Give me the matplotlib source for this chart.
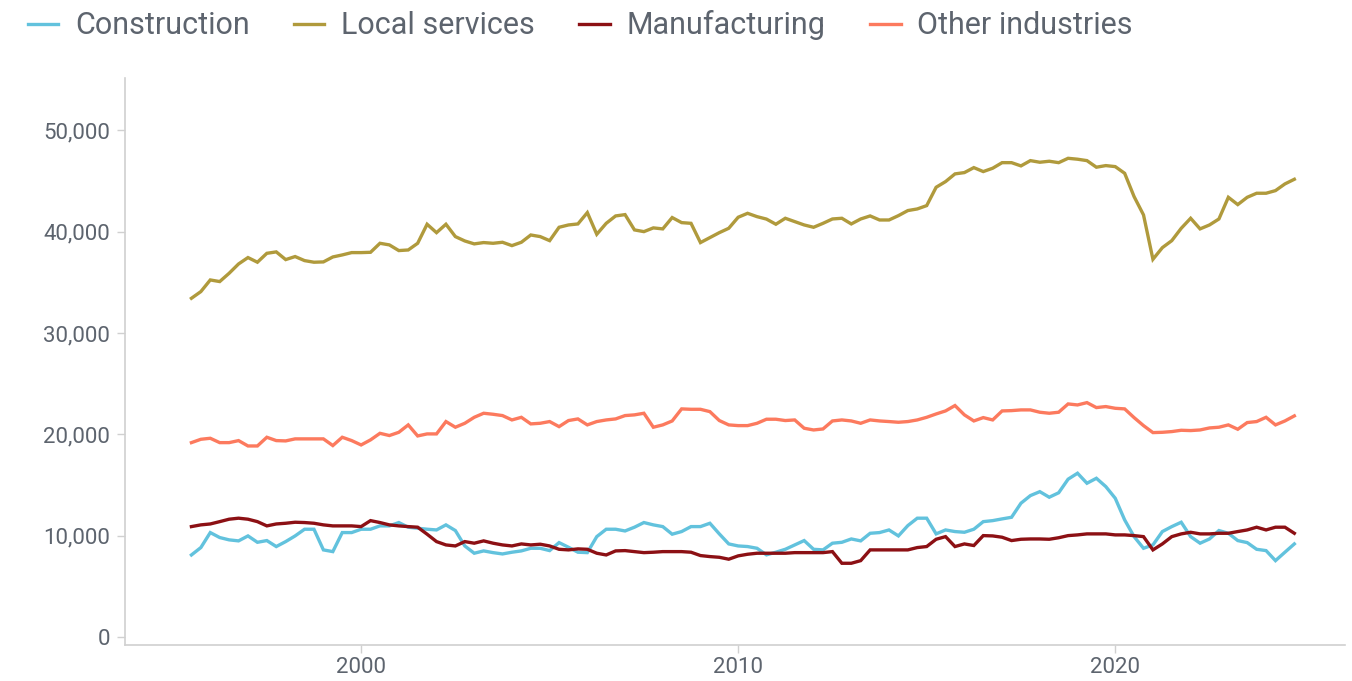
import matplotlib
matplotlib.use("Agg")
import matplotlib.pyplot as plt
import numpy as np
import pandas as pd
from matplotlib.ticker import FuncFormatter

# Quarterly employment by industry, 1995Q3 onwards
START_QUARTER = "1995Q3"

construction = [
    8090, 8820, 10300, 9810, 9580, 9480, 9970, 9340, 9510, 8920, 9410, 9970,
    10630, 10630, 8590, 8420, 10300, 10300, 10630, 10630, 10960, 10960, 11290,
    10830, 10730, 10630, 10560, 11060, 10500, 8980, 8260,
    8490, 8320, 8190, 8360, 8490, 8750, 8750, 8520, 9310, 8850, 8360, 8320,
    9900, 10630, 10630, 10460, 10830, 11290, 11060, 10890, 10140, 10400, 10890,
    10890, 11220, 10170, 9180, 8980, 8920, 8750, 8100,
    8360, 8650, 9080, 9510, 8650, 8590, 9250, 9340, 9670, 9480, 10230, 10300,
    10560, 9970, 10990, 11720, 11720, 10170, 10560, 10400, 10330, 10630, 11380,
    11480, 11650, 11810, 13200, 13950, 14340, 13790,
    14230, 15570, 16160, 15170, 15660, 14840, 13690, 11550, 9900, 8750, 9080,
    10400, 10890, 11320, 9900, 9250, 9670, 10500, 10230, 9510, 9310, 8650, 8520,
    7530, 8360, 9180,
]

local_services = [
    33430, 34090, 35240, 35080, 35900, 36820, 37450, 36990, 37870, 38010, 37250,
    37550, 37150, 36990, 37020, 37510, 37710, 37940, 37940, 37970, 38860, 38700,
    38140, 38200, 38860, 40740, 39910, 40740, 39520, 39090, 38800,
    38930, 38860, 38960, 38630, 38960, 39680, 39520, 39120, 40440, 40670, 40770,
    41890, 39750, 40830, 41560, 41690, 40180, 40010, 40380, 40280, 41400, 40900,
    40830, 38930, 39420, 39910, 40340, 41430, 41820, 41490, 41250,
    40740, 41330, 41000, 40670, 40440, 40830, 41260, 41330, 40770, 41260, 41560,
    41160, 41160, 41590, 42090, 42250, 42580, 44390, 44950, 45710, 45840, 46330,
    45940, 46270, 46820, 46820, 46500, 47020, 46860, 46960,
    46820, 47250, 47160, 47020, 46370, 46530, 46430, 45770, 43470, 41660, 37280,
    38430, 39120, 40340, 41330, 40280, 40670, 41260, 43400, 42680, 43400, 43800,
    43800, 44060, 44720, 45180,
]

manufacturing = [
    10890, 11060, 11150, 11380, 11620, 11720, 11620, 11380, 10960, 11150, 11220,
    11320, 11290, 11220, 11060, 10960, 10960, 10960, 10890, 11480, 11290, 11060,
    10960, 10890, 10830, 10140, 9410, 9080, 8980, 9410, 9250,
    9480, 9250, 9080, 8980, 9180, 9080, 9150, 8980, 8650, 8590, 8690, 8650,
    8260, 8090, 8490, 8520, 8420, 8320, 8360, 8420, 8420, 8420, 8360, 8030,
    7930, 7860, 7670, 8000, 8160, 8260, 8260,
    8260, 8260, 8320, 8320, 8320, 8320, 8420, 7270, 7270, 7530, 8590, 8590,
    8590, 8590, 8590, 8820, 8920, 9640, 9900, 8920, 9180, 9020, 10000, 9970,
    9840, 9510, 9640, 9670, 9670, 9640,
    9790, 10000, 10070, 10170, 10170, 10170, 10070, 10070, 10000, 9900, 8590,
    9180, 9900, 10170, 10330, 10170, 10170, 10230, 10230, 10400, 10560, 10830,
    10560, 10830, 10830, 10230,
]

other_industries = [
    19180, 19510, 19610, 19180, 19180, 19380, 18850, 18850, 19710, 19380, 19350,
    19550, 19550, 19550, 19550, 18890, 19710, 19380, 18950, 19450, 20100, 19880,
    20200, 20930, 19840, 20040, 20040, 21260, 20700, 21090, 21680,
    22080, 21980, 21850, 21420, 21680, 21030, 21090, 21260, 20760, 21360, 21520,
    20930, 21260, 21420, 21520, 21850, 21920, 22080, 20700, 20930, 21320, 22510,
    22470, 22470, 22240, 21360, 20930, 20860, 20860, 21090, 21490,
    21490, 21360, 21420, 20600, 20430, 20530, 21320, 21420, 21320, 21090, 21420,
    21320, 21260, 21190, 21260, 21420, 21680, 22010, 22310, 22840, 21920, 21320,
    21650, 21420, 22310, 22340, 22410, 22410, 22180, 22080,
    22180, 23000, 22900, 23130, 22640, 22740, 22570, 22510, 21650, 20860, 20170,
    20200, 20270, 20400, 20370, 20430, 20630, 20700, 20930, 20500, 21160, 21260,
    21680, 20930, 21320, 21820,
]

SERIES = [
    ("Construction", construction, "#62c2dd"),
    ("Local services", local_services, "#b09a3c"),
    ("Manufacturing", manufacturing, "#8c1014"),
    ("Other industries", other_industries, "#fc7a5e"),
]

Y_TICKS = [0, 10000, 20000, 30000, 40000, 50000]
X_TICKS = [2000, 2010, 2020]

TEXT = "#5d646e"
AXIS = "#d0d0d0"

plt.rcParams["font.family"] = ["Roboto", "DejaVu Sans"]

periods = pd.period_range(START_QUARTER, periods=len(construction), freq="Q")
years = np.array([p.year + (p.quarter - 1) / 4 for p in periods])

fig = plt.figure(figsize=(13.52, 6.81), dpi=100)
ax = fig.add_axes([0.0925, 0.053, 0.9025, 0.8325])

for name, vals, color in SERIES:
    ax.plot(years, vals, color=color, lw=2.4, label=name, solid_joinstyle="miter")

ax.set_xlim(1993.74, 2026.1)
ax.set_ylim(-790, 55180)
ax.set_yticks(Y_TICKS)
ax.set_xticks(X_TICKS)
ax.yaxis.set_major_formatter(FuncFormatter(lambda v, _: f"{int(v):,}"))

for side in ("top", "right"):
    ax.spines[side].set_visible(False)
for side in ("left", "bottom"):
    ax.spines[side].set_color(AXIS)
    ax.spines[side].set_linewidth(1.2)

ax.tick_params(axis="both", colors=AXIS, labelcolor=TEXT, labelsize=16,
               length=6, width=1)
ax.tick_params(axis="y", pad=5)
ax.tick_params(axis="x", pad=3)

fig.legend(loc="upper left", bbox_to_anchor=(0.0, 1.025), ncol=4,
           frameon=False, fontsize=22, labelcolor=TEXT, handlelength=1.0,
           handletextpad=0.55, columnspacing=1.45)

fig.savefig("out.png", dpi=100)
